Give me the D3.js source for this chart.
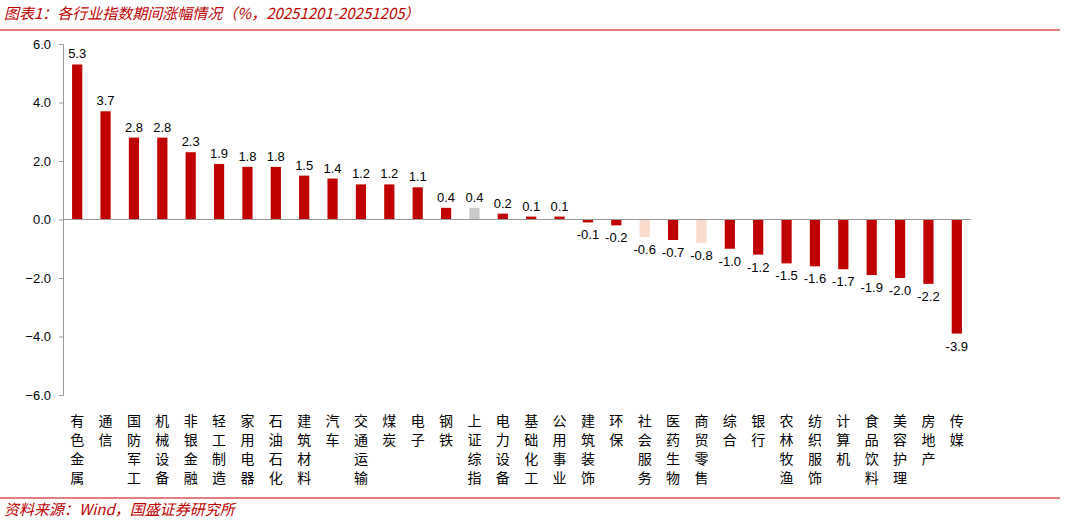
<!DOCTYPE html>
<html><head><meta charset="utf-8">
<script src="https://cdn.jsdelivr.net/npm/d3@7"></script>
<style>body{margin:0;background:#fff;font-family:"Noto Sans CJK SC",sans-serif;}</style>
</head><body><div id="vis"></div>
<script>
const categories = ["有色金属","通信","国防军工","机械设备","非银金融","轻工制造","家用电器","石油石化","建筑材料","汽车","交通运输","煤炭","电子","钢铁","上证综指","电力设备","基础化工","公用事业","建筑装饰","环保","社会服务","医药生物","商贸零售","综合","银行","农林牧渔","纺织服饰","计算机","食品饮料","美容护理","房地产","传媒"];
const values = [5.3,3.7,2.8,2.8,2.3,1.9,1.8,1.8,1.5,1.4,1.2,1.2,1.1,0.4,0.4,0.2,0.1,0.1,-0.1,-0.2,-0.6,-0.7,-0.8,-1.0,-1.2,-1.5,-1.6,-1.7,-1.9,-2.0,-2.2,-3.9];
const yTicks = [6,4,2,0,-2,-4,-6];
const barColor = c => c === "上证综指" ? "#C8C8C8" : (c === "社会服务" || c === "商贸零售") ? "#F9DCCD" : "#C00000";

const W = 1065, H = 523;
const svg = d3.select("#vis").append("svg").attr("width", W).attr("height", H);

// title & rules
svg.append("text").attr("x", 4).attr("y", 19).attr("fill", "#C00000")
  .attr("font-size", 15).attr("font-style", "italic")
  .text("图表1：各行业指数期间涨幅情况（%，20251201-20251205）");
svg.append("line").attr("x1", 0).attr("x2", 1060).attr("y1", 30).attr("y2", 30).attr("stroke", "#C00000").attr("stroke-width", 1.2);
svg.append("line").attr("x1", 0).attr("x2", 1060).attr("y1", 498).attr("y2", 498).attr("stroke", "#C00000").attr("stroke-width", 1.2);
svg.append("text").attr("x", 4).attr("y", 515).attr("fill", "#C00000")
  .attr("font-size", 15).attr("font-style", "italic")
  .text("资料来源：Wind，国盛证券研究所");

const x = d3.scaleBand().domain(categories).range([63, 971]).paddingInner(0.64).paddingOuter(0.32);
const y = d3.scaleLinear().domain([-6, 6]).range([395, 44]);

const yAxis = svg.append("g").attr("transform", "translate(63,0)")
  .call(d3.axisLeft(y).tickValues(yTicks).tickFormat(d3.format(".1f")).tickSize(4));
yAxis.select(".domain").attr("stroke", "#999");
yAxis.selectAll(".tick line").attr("stroke", "#999");
yAxis.selectAll("text").attr("font-family", "Liberation Sans, Arial").attr("font-size", 13).attr("fill", "#000").attr("x", -12);

svg.selectAll("rect.bar").data(categories).enter().append("rect")
  .attr("x", c => x(c)).attr("width", x.bandwidth())
  .attr("y", (c, i) => y(Math.max(0, values[i])))
  .attr("height", (c, i) => Math.abs(y(values[i]) - y(0)))
  .attr("fill", barColor);

svg.append("line").attr("x1", 63).attr("x2", 971).attr("y1", y(0)).attr("y2", y(0)).attr("stroke", "#999");

svg.selectAll("text.val").data(categories).enter().append("text")
  .attr("x", c => x(c) + x.bandwidth() / 2)
  .attr("y", (c, i) => values[i] >= 0 ? y(values[i]) - 6 : y(values[i]) + 17)
  .attr("text-anchor", "middle").attr("font-family", "Liberation Sans, Arial").attr("font-size", 13)
  .text((c, i) => values[i].toFixed(1));

const lab = svg.selectAll("g.lab").data(categories).enter().append("g")
  .attr("transform", c => `translate(${x(c) + x.bandwidth() / 2},426)`);
lab.each(function(c) {
  const g = d3.select(this);
  [...c].forEach((ch, k) => g.append("text").attr("y", k * 19).attr("text-anchor", "middle")
    .attr("font-size", 14).text(ch));
});
</script></body></html>
